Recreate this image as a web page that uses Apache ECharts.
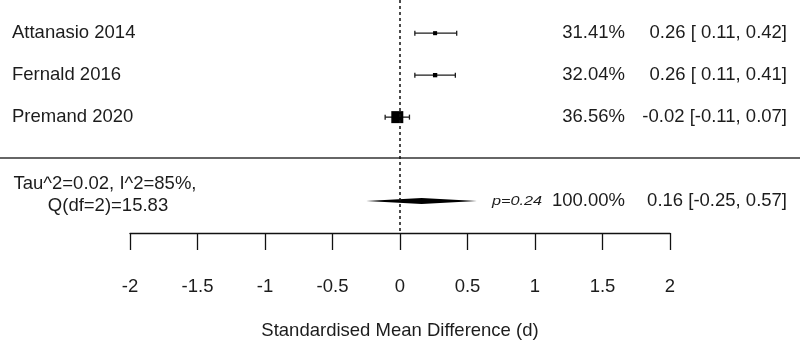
<!DOCTYPE html>
<html>
<head>
<meta charset="utf-8">
<script src="https://cdn.jsdelivr.net/npm/echarts@6/dist/echarts.min.js"></script>
<style>
  html, body { margin: 0; padding: 0; background: #fff; }
  #chart { width: 800px; height: 345px; }
</style>
</head>
<body>
<div id="chart"></div>
<script>
// study rows
const studies = ['Attanasio 2014', 'Fernald 2016', 'Premand 2020'];
const estimates = [0.26, 0.26, -0.02];
const ciLower = [0.11, 0.11, -0.11];
const ciUpper = [0.42, 0.41, 0.07];
const weights = [31.41, 32.04, 36.56];

// pooled (random effects) row
const pooledEst = 0.16;
const pooledLower = -0.25;
const pooledUpper = 0.57;
const pooledWeight = 100.00;
const pooledP = 'p=0.24';
const hetLines = ['Tau^2=0.02, I^2=85%,', 'Q(df=2)=15.83'];

// x axis
const xMin = -2, xMax = 2, xStep = 0.5;
const xTitle = 'Standardised Mean Difference (d)';

const FONT = 'Liberation Sans, Arial, sans-serif';
const FS = 18.5;
const INK = '#1c1c1c';

function pad(v) {
  return (v < 0 ? '' : ' ') + v.toFixed(2);
}
function estLabel(e, lo, hi) {
  return e.toFixed(2) + ' [' + pad(lo) + ', ' + hi.toFixed(2) + ']';
}
function txt(x, y, s, align, extra) {
  return {
    type: 'text',
    x: x, y: y,
    style: Object.assign({
      text: s, fill: INK, font: FS + 'px ' + FONT,
      align: align, verticalAlign: 'middle'
    }, extra || {})
  };
}

const studyData = studies.map((s, i) => [estimates[i], i, ciLower[i], ciUpper[i]]);
const pooledRow = studies.length + 1;

function renderStudy(params, api) {
  const i = params.dataIndex;
  const y = api.coord([0, api.value(1)])[1];
  const xm = api.coord([api.value(0), 0])[0];
  const xl = api.coord([api.value(2), 0])[0];
  const xh = api.coord([api.value(3), 0])[0];
  // box area ~ inverse variance
  const se = (api.value(3) - api.value(2)) / 3.92;
  const box = 0.0253 / (se * se);
  const ln = { stroke: INK, lineWidth: 1.3 };
  return {
    type: 'group',
    children: [
      { type: 'line', shape: { x1: xl, y1: y, x2: xh, y2: y }, style: ln },
      { type: 'line', shape: { x1: xl, y1: y - 2.5, x2: xl, y2: y + 2.5 }, style: ln },
      { type: 'line', shape: { x1: xh, y1: y - 2.5, x2: xh, y2: y + 2.5 }, style: ln },
      { type: 'rect', shape: { x: xm - box / 2, y: y - box / 2, width: box, height: box }, style: { fill: '#000' } },
      txt(12, y, studies[i], 'left'),
      txt(625, y, weights[i].toFixed(2) + '%', 'right'),
      txt(787, y, estLabel(estimates[i], ciLower[i], ciUpper[i]), 'right')
    ]
  };
}

function renderPooled(params, api) {
  const y = api.coord([0, api.value(1)])[1];
  const xm = api.coord([api.value(0), 0])[0];
  const xl = api.coord([api.value(2), 0])[0];
  const xh = api.coord([api.value(3), 0])[0];
  const h = 3;
  return {
    type: 'group',
    children: [
      { type: 'polygon', shape: { points: [[xl, y], [xm, y - h], [xh, y], [xm, y + h]] }, style: { fill: '#000' } },
      {
        type: 'text', x: 492, y: y, scaleX: 1.25,
        style: { text: pooledP, fill: INK, font: 'italic 13px ' + FONT, align: 'left', verticalAlign: 'middle' }
      },
      txt(625, y, pooledWeight.toFixed(2) + '%', 'right'),
      txt(787, y, estLabel(pooledEst, pooledLower, pooledUpper), 'right'),
      txt(105, y - 17, hetLines[0], 'center'),
      txt(108, y + 5, hetLines[1], 'center')
    ]
  };
}

const myChart = echarts.init(document.getElementById('chart'));
const option = {
  animation: false,
  backgroundColor: '#fff',
  grid: { left: 130, right: 130, top: 0, height: 233 },
  xAxis: {
    type: 'value',
    min: xMin, max: xMax, interval: xStep,
    name: xTitle,
    nameLocation: 'middle',
    nameGap: 88,
    nameTextStyle: { fontFamily: FONT, fontSize: FS, color: INK },
    axisLine: { show: true, onZero: false, lineStyle: { color: '#111', width: 1.3 } },
    axisTick: { show: true, length: 17, lineStyle: { color: '#111', width: 1.3 } },
    axisLabel: { margin: 44, fontFamily: FONT, fontSize: FS, color: INK },
    splitLine: { show: false }
  },
  yAxis: {
    type: 'value', inverse: true, min: -0.79, max: 4.76, show: false
  },
  graphic: [
    { type: 'line', shape: { x1: 0, y1: 158, x2: 800, y2: 158 }, style: { stroke: '#333', lineWidth: 1.5 } }
  ],
  series: [
    {
      type: 'custom',
      renderItem: renderStudy,
      data: studyData,
      encode: { x: [0, 2, 3], y: 1 },
      markLine: {
        silent: true,
        symbol: 'none',
        label: { show: false },
        lineStyle: { type: [3, 3], color: '#111', width: 1.5 },
        data: [{ xAxis: 0 }]
      }
    },
    {
      type: 'custom',
      renderItem: renderPooled,
      data: [[pooledEst, pooledRow, pooledLower, pooledUpper]],
      encode: { x: [0, 2, 3], y: 1 }
    }
  ]
};
myChart.setOption(option);
</script>
</body>
</html>
